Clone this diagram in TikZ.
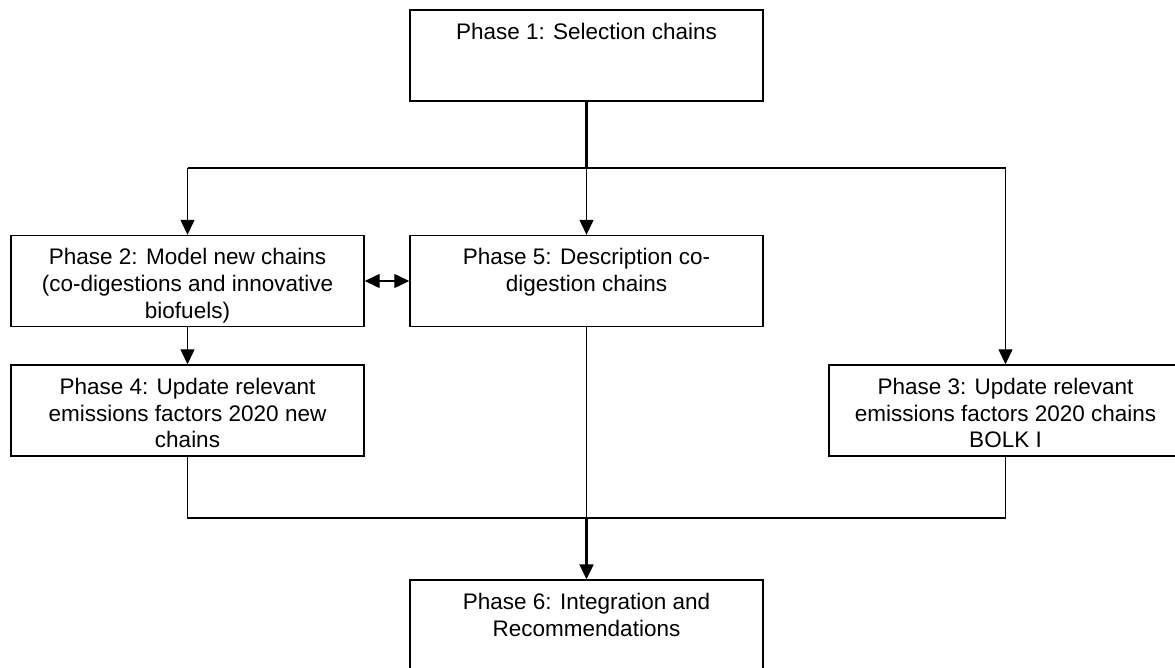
\documentclass[tikz,border=0pt]{standalone}
\usepackage{fontspec}
\setmainfont{Liberation Sans}
\usetikzlibrary{arrows.meta,positioning}
\begin{document}
\begin{tikzpicture}[x=1pt,y=-1pt,
>={Triangle[length=15pt,width=14pt]},
phase/.style={draw, line width=1.4pt, minimum width=353pt,
 minimum height=91pt, inner sep=0pt},
phasetext/.style={anchor=north, align=center, inner sep=0pt,
 font=\fontsize{22.5pt}{26.7pt}\selectfont},
link/.style={line width=1.3pt},
heavy/.style={line width=2.2pt}
]
\useasboundingbox (0,0) rectangle (1175,667);

% boxes
\node[phase] (p1) at (586.5,55.5) {};
\node[phase] (p2) at (187.5,281) {};
\node[phase] (p5) at (586.5,281) {};
\node[phase] (p4) at (187.5,410.5) {};
\node[phase] (p3) at (1005.5,410.5) {};
\node[phase] (p6) at (586.5,625.5) {};

% texts, top aligned
\node[phasetext] (t1) at ([yshift=-13.5pt]p1.north) {Phase 1: Selection chains};
\node[phasetext] (t2) at ([yshift=-13.5pt]p2.north)
 {Phase 2: Model new chains\\(co-digestions and innovative\\biofuels)};
\node[phasetext] (t5) at ([yshift=-13.5pt]p5.north)
 {Phase 5: Description co-\\digestion chains};
\node[phasetext] (t4) at ([yshift=-13.5pt]p4.north)
 {Phase 4: Update relevant\\emissions factors 2020 new\\chains};
\node[phasetext] (t3) at ([yshift=-13.5pt]p3.north)
 {Phase 3: Update relevant\\emissions factors 2020 chains\\BOLK I};
\node[phasetext] (t6) at ([yshift=-13.5pt]p6.north)
 {Phase 6: Integration and\\Recommendations};

\coordinate (bustop) at (586.5,168);
\coordinate (busbot) at (586.5,518);

% connectors
\draw[heavy] (p1) -- (bustop);
\draw[link] (p2 |- bustop) -- (p3 |- bustop);
\draw[link,->] (p2 |- bustop) -- (p2);
\draw[link,->] (bustop) -- (p5);
\draw[link,->] (p3 |- bustop) -- (p3);
\draw[link,->] (p2) -- (p4);
\draw[link,<->] (p2) -- (p5);
\draw[link] (p4) -- (p4 |- busbot) -- (p3 |- busbot) -- (p3);
\draw[link] (p5) -- (busbot);
\draw[heavy,->] (busbot) -- (p6);

\end{tikzpicture}
\end{document}
